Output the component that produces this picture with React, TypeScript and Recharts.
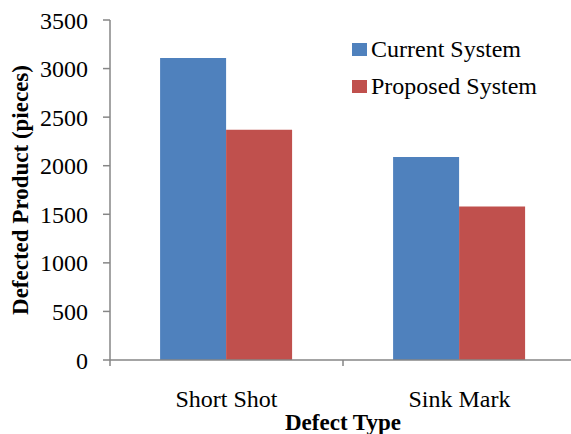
import React from 'react';
import { BarChart, Bar, XAxis, YAxis, Legend } from 'recharts';

const categories = ['Short Shot', 'Sink Mark'];
const currentSystem = [3110, 2090];
const proposedSystem = [2370, 1580];
const yTicks = [0, 500, 1000, 1500, 2000, 2500, 3000, 3500];

const data = categories.map((name, i) => ({
  name,
  current: currentSystem[i],
  proposed: proposedSystem[i],
}));

const FONT = '"Liberation Serif", "Times New Roman", serif';
const AXIS = '#868686';

const CategoryTick = (props: any) => {
  const { x, y, payload } = props;
  const edge = x - (payload.offset || 0);
  return (
    <g>
      <line x1={edge} y1={y - 8} x2={edge} y2={y - 2} stroke={AXIS} strokeWidth={1.5} />
      <text x={x} y={y + 39} textAnchor="middle" fontFamily={FONT} fontSize={24} fill="#000">
        {payload.value}
      </text>
    </g>
  );
};

const LegendBox = (props: any) => {
  const { payload } = props;
  return (
    <div>
      {payload.map((p: any) => (
        <div key={p.value} style={{ display: 'flex', alignItems: 'center', height: 37 }}>
          <span style={{ width: 15, height: 13, background: p.color, marginRight: 4, display: 'inline-block' }} />
          <span style={{ fontFamily: FONT, fontSize: 24, color: '#000', whiteSpace: 'nowrap' }}>{p.value}</span>
        </div>
      ))}
    </div>
  );
};

export default function App() {
  return (
    <div style={{ position: 'absolute', left: 0, top: 0, width: 571, height: 434, overflow: 'hidden', background: '#fff' }}>
      <BarChart
        width={580}
        height={434}
        data={data}
        margin={{ top: 20, right: 4, left: 0, bottom: 0 }}
        barCategoryGap="21.5%"
        barGap={0}
      >
        <XAxis
          dataKey="name"
          height={74}
          stroke={AXIS}
          strokeWidth={1.5}
          tickLine={false}
          tick={<CategoryTick />}
          label={{
            value: 'Defect Type',
            position: 'insideBottom',
            offset: 4,
            style: { fontFamily: FONT, fontSize: 23, fontWeight: 'bold', fill: '#000' },
          }}
        />
        <YAxis
          width={110}
          domain={[0, 3500]}
          ticks={yTicks}
          interval={0}
          stroke={AXIS}
          strokeWidth={1.5}
          tickSize={7}
          tickMargin={15}
          tick={{ fontFamily: FONT, fontSize: 24, fill: '#000' }}
          label={{
            value: 'Defected Product (pieces)',
            angle: -90,
            position: 'insideLeft',
            offset: 20,
            style: { textAnchor: 'middle', fontFamily: FONT, fontSize: 23, fontWeight: 'bold', fill: '#000' },
          }}
        />
        <Legend
          layout="vertical"
          verticalAlign="middle"
          align="center"
          content={<LegendBox />}
          wrapperStyle={{ top: 31, left: 352, width: 220 }}
        />
        <Bar dataKey="current" name="Current System" fill="#4F81BD" isAnimationActive={false} />
        <Bar dataKey="proposed" name="Proposed System" fill="#C0504D" isAnimationActive={false} />
      </BarChart>
    </div>
  );
}
